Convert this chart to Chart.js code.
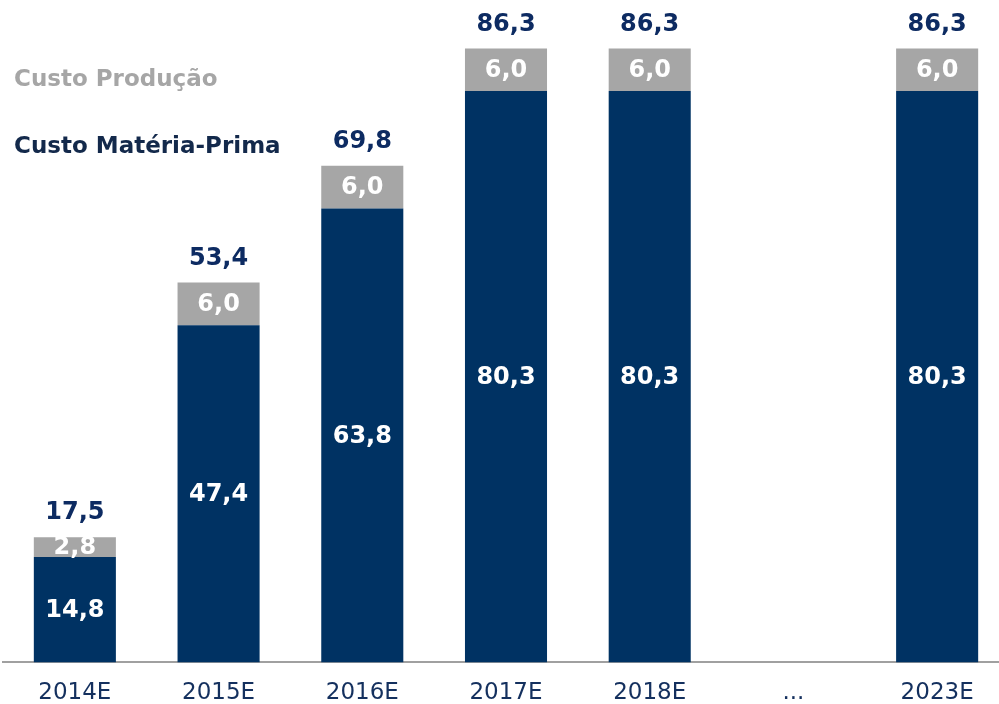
<!DOCTYPE html>
<html>
<head>
<meta charset="utf-8">
<script src="https://cdn.jsdelivr.net/npm/chart.js@4.4.0/dist/chart.umd.min.js"></script>
<style>
    html, body { margin: 0; padding: 0; background: #ffffff; overflow: hidden; }
    body { width: 999px; height: 704px; position: relative; }
    #chartCusto { position: absolute; left: 0; top: 0; display: block; }
    .legend { position: absolute; left: 14px; font-family: 'DejaVu Sans', Verdana, sans-serif; font-weight: bold; font-size: 23px; white-space: nowrap; line-height: 28px; }
    #legProd { top: 64px; color: #a6a6a6; }
    #legMat { top: 131px; color: #13294b; }
</style>
</head>
<body>
<canvas id="chartCusto" width="1009" height="724"></canvas>
<div class="legend" id="legProd">Custo Produção</div>
<div class="legend" id="legMat">Custo Matéria-Prima</div>

<script>
// Dados
const categorias = ['2014E', '2015E', '2016E', '2017E', '2018E', '...', '2023E'];
const custoMateriaPrima = [14.8, 47.4, 63.8, 80.3, 80.3, null, 80.3];
const custoProducao = [2.8, 6.0, 6.0, 6.0, 6.0, null, 6.0];
const totais = [17.5, 53.4, 69.8, 86.3, 86.3, null, 86.3];

const NAVY = '#003263';
const GRAY = '#a6a6a6';
const FONT = "'DejaVu Sans', Verdana, sans-serif";

function fmt(v) {
    return v.toFixed(1).replace('.', ',');
}

// Rótulos dentro das barras e totais acima
const labelsPlugin = {
    id: 'labelsPlugin',
    afterDatasetsDraw(chart) {
        const ctx = chart.ctx;
        ctx.save();
        ctx.font = 'bold 24px ' + FONT;
        ctx.textAlign = 'center';
        ctx.textBaseline = 'middle';

        chart.data.datasets.forEach((ds, di) => {
            const meta = chart.getDatasetMeta(di);
            meta.data.forEach((bar, i) => {
                if (ds.data[i] == null) return;
                const p = bar.getProps(['x', 'y', 'base'], true);
                ctx.fillStyle = '#ffffff';
                ctx.fillText(fmt(ds.data[i]), p.x, (p.y + p.base) / 2 + 1);
            });
        });

        const top = chart.getDatasetMeta(1);
        top.data.forEach((bar, i) => {
            if (totais[i] == null) return;
            const p = bar.getProps(['x', 'y'], true);
            ctx.fillStyle = '#0d2b62';
            ctx.fillText(fmt(totais[i]), p.x, p.y - 24);
        });
        ctx.restore();
    }
};

const ctx = document.getElementById('chartCusto').getContext('2d');
new Chart(ctx, {
    type: 'bar',
    data: {
        labels: categorias,
        datasets: [
            {
                label: 'Custo Matéria-Prima',
                data: custoMateriaPrima,
                backgroundColor: NAVY,
                borderWidth: 0,
                categoryPercentage: 1.0,
                barPercentage: 0.571
            },
            {
                label: 'Custo Produção',
                data: custoProducao,
                backgroundColor: GRAY,
                borderWidth: 0,
                categoryPercentage: 1.0,
                barPercentage: 0.571
            }
        ]
    },
    options: {
        responsive: false,
        animation: false,
        layout: { padding: { left: 3, right: 0, top: 0, bottom: 0 } },
        plugins: {
            legend: { display: false },
            tooltip: { enabled: false }
        },
        scales: {
            x: {
                stacked: true,
                grid: { display: false, drawTicks: false },
                border: { display: true, color: '#a0a0a0', width: 2 },
                ticks: {
                    color: '#14305e',
                    padding: 17,
                    maxRotation: 0,
                    autoSkip: false,
                    font: { family: FONT, size: 23 }
                }
            },
            y: {
                stacked: true,
                display: false,
                min: 0,
                max: 93.1
            }
        }
    },
    plugins: [labelsPlugin]
});
</script>
</body>
</html>
